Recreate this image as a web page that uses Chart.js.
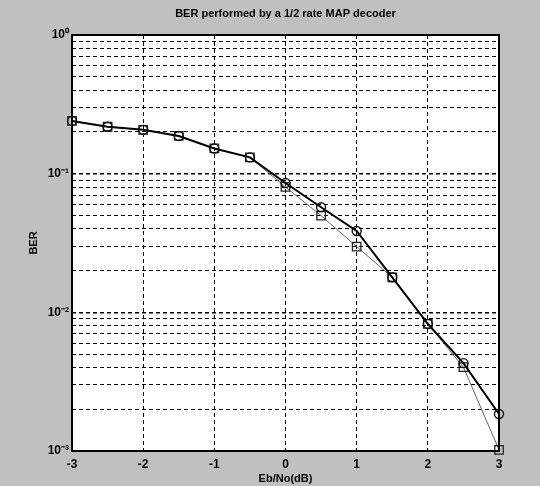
<!DOCTYPE html>
<html lang="en">
<head>
    <meta charset="UTF-8">
    <title>BER</title>
    <script src="https://cdn.jsdelivr.net/npm/chart.js@4.4.0/dist/chart.umd.min.js"></script>
    <style>
        body { margin: 0; background: #c0c0c0; }
        #box { width: 540px; height: 486px; }
    </style>
</head>
<body>
    <div id="box"><canvas id="myChart" width="540" height="486"></canvas></div>

    <script>
        // x axis values (Eb/No in dB)
        const ebno = [-3, -2.5, -2, -1.5, -1, -0.5, 0, 0.5, 1, 1.5, 2, 2.5, 3];
        // circle curve (thick line)
        const berCircle = [0.240, 0.218, 0.207, 0.187, 0.152, 0.131, 0.0857, 0.0573, 0.0386, 0.0179, 0.00825, 0.00430, 0.00185];
        // square curve (thin line)
        const berSquare = [0.240, 0.218, 0.207, 0.187, 0.152, 0.131, 0.0802, 0.0498, 0.0298, 0.0179, 0.00825, 0.00402, 0.00102];

        // log grid lines and the labels on the decades
        const yTicks = [0.001, 0.002, 0.003, 0.004, 0.005, 0.006, 0.007, 0.008, 0.009,
                        0.01, 0.02, 0.03, 0.04, 0.05, 0.06, 0.07, 0.08, 0.09,
                        0.1, 0.2, 0.3, 0.4, 0.5, 0.6, 0.7, 0.8, 0.9, 1];
        const yMajor = [0.001, 0.01, 0.1, 1];
        const yMajorLabels = ['10⁻³', '10⁻²', '10⁻¹', '10⁰'];
        const xTicks = [-3, -2, -1, 0, 1, 2, 3];

        const titleText = 'BER performed by a 1/2 rate MAP decoder';

        const toPoints = (xs, ys) => xs.map((x, i) => ({ x: x, y: ys[i] }));
        const isMajor = v => yMajor.some(m => Math.abs(m - v) < m * 1e-6);

        // grey page, white axes box, black frame, title
        const frame = {
            id: 'frame',
            beforeDraw(chart) {
                const c = chart.ctx, a = chart.chartArea;
                c.save();
                c.fillStyle = '#c0c0c0';
                c.fillRect(0, 0, chart.width, chart.height);
                c.fillStyle = '#ffffff';
                c.fillRect(a.left, a.top, a.right - a.left, a.bottom - a.top);
                c.restore();
            },
            afterDatasetsDraw(chart) {
                const c = chart.ctx, a = chart.chartArea;
                c.save();
                c.strokeStyle = '#000';
                c.lineWidth = 2;
                c.strokeRect(a.left, a.top, a.right - a.left, a.bottom - a.top);
                c.fillStyle = '#000';
                c.font = 'bold 11px "Liberation Sans", Arial, sans-serif';
                c.textAlign = 'center';
                c.textBaseline = 'middle';
                c.fillText(titleText, (a.left + a.right) / 2, 14);
                c.restore();
            }
        };

        const ctx = document.getElementById('myChart').getContext('2d');
        const myChart = new Chart(ctx, {
            type: 'line',
            data: {
                datasets: [{
                    label: 'circle',
                    data: toPoints(ebno, berCircle),
                    borderColor: '#000',
                    borderWidth: 2,
                    pointStyle: 'circle',
                    pointRadius: 4.5,
                    pointBorderColor: '#111',
                    pointBorderWidth: 1.4,
                    pointBackgroundColor: 'rgba(0,0,0,0)',
                    clip: false
                }, {
                    label: 'square',
                    data: toPoints(ebno, berSquare),
                    borderColor: '#666',
                    borderWidth: 1,
                    pointStyle: 'rect',
                    pointRadius: 6,
                    pointBorderColor: '#222',
                    pointBorderWidth: 1.3,
                    pointBackgroundColor: 'rgba(0,0,0,0)',
                    clip: false
                }]
            },
            options: {
                responsive: false,
                animation: false,
                layout: { padding: { top: 35, right: 41, left: 0, bottom: 0 } },
                plugins: {
                    legend: { display: false },
                    title: { display: false },
                    tooltip: { enabled: false }
                },
                scales: {
                    x: {
                        type: 'linear',
                        min: -3,
                        max: 3,
                        afterBuildTicks: s => { s.ticks = xTicks.map(v => ({ value: v })); },
                        afterFit: s => { s.height = 35; },
                        // in v4 the grid line dash comes from border.dash
                        border: { display: false, dash: [4, 3] },
                        grid: {
                            color: c => (c.tick && (c.tick.value === -3 || c.tick.value === 3)) ? 'rgba(0,0,0,0)' : '#000',
                            lineWidth: 1,
                            drawTicks: false
                        },
                        ticks: {
                            color: '#000',
                            padding: 6,
                            font: { family: '"Liberation Sans", Arial, sans-serif', size: 12, weight: 'bold' },
                            callback: v => String(v)
                        },
                        title: {
                            display: true,
                            text: 'Eb/No(dB)',
                            color: '#000',
                            padding: { top: 0, bottom: 0 },
                            font: { family: '"Liberation Sans", Arial, sans-serif', size: 11, weight: 'bold' }
                        }
                    },
                    y: {
                        type: 'logarithmic',
                        min: 0.001,
                        max: 1,
                        afterBuildTicks: s => { s.ticks = yTicks.map(v => ({ value: v, major: isMajor(v) })); },
                        afterFit: s => { s.width = 72; },
                        border: { display: false, dash: [4, 3] },
                        grid: {
                            color: '#000',
                            lineWidth: c => (c.tick && isMajor(c.tick.value)) ? 1.4 : 1,
                            drawTicks: false
                        },
                        ticks: {
                            autoSkip: false,
                            color: '#000',
                            padding: 3,
                            font: { family: '"Liberation Sans", Arial, sans-serif', size: 12, weight: 'bold' },
                            callback: v => {
                                const i = yMajor.findIndex(m => Math.abs(m - v) < m * 1e-6);
                                return i >= 0 ? yMajorLabels[i] : '';
                            }
                        },
                        title: {
                            display: true,
                            text: 'BER',
                            color: '#000',
                            padding: { top: 27, bottom: 0 },
                            font: { family: '"Liberation Sans", Arial, sans-serif', size: 11, weight: 'bold' }
                        }
                    }
                }
            },
            plugins: [frame]
        });
    </script>
</body>
</html>
